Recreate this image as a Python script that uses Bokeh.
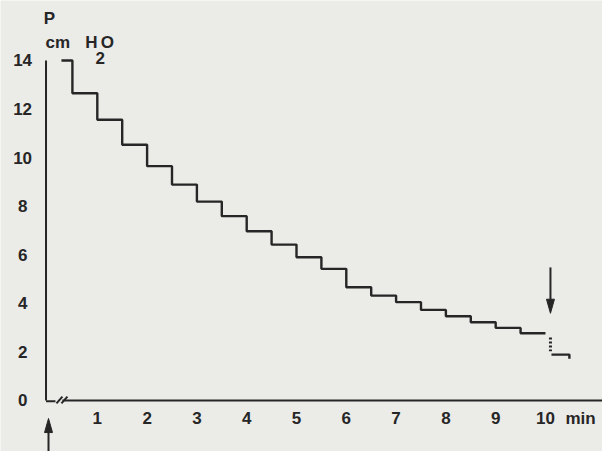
from bokeh.plotting import figure
from bokeh.models import Range1d
from bokeh.core.properties import value
from bokeh.embed import file_html
from bokeh.resources import INLINE

# ---- data ----
step_edges_min = [0.28, 0.5, 1.0, 1.5, 2.0, 2.5, 3.0, 3.5, 4.0, 4.5, 5.0,
                  5.5, 6.0, 6.5, 7.0, 7.5, 8.0, 8.5, 9.0, 9.5, 10.0]
pressure_cm = [14.0, 12.65, 11.56, 10.53, 9.65, 8.89, 8.19, 7.59, 6.97, 6.42,
               5.90, 5.42, 4.66, 4.32, 4.05, 3.73, 3.47, 3.22, 2.99, 2.77]
dotted_min = [10.1, 10.1]
dotted_p = [2.59, 2.03]
after_min = [10.12, 10.48, 10.48]
after_p = [1.89, 1.89, 1.72]
y_ticks = [0, 2, 4, 6, 8, 10, 12, 14]
x_ticks = [1, 2, 3, 4, 5, 6, 7, 8, 9, 10]
x_tick_labels = ["1", "2", "3", "4", "5", "6", "7", "8", "9", "10"]

INK = "#262626"
BG = "#ebebe8"
FONT = value("Liberation Sans")
FS = "17px"

p = figure(width=602, height=451, output_backend="svg", toolbar_location=None,
           x_range=Range1d(-0.944, 11.145), y_range=Range1d(-2.10, 16.47),
           min_border=0, background_fill_color=BG, border_fill_color=BG,
           outline_line_color=None)
p.axis.visible = False
p.grid.visible = False

# step curve
p.step(step_edges_min, pressure_cm + [pressure_cm[-1]], mode="after",
       line_color=INK, line_width=2.4)
p.line(dotted_min, dotted_p, line_color=INK, line_width=3, line_dash="2 2")
p.line(after_min, after_p, line_color=INK, line_width=2.4)

# axes drawn by hand
p.line([-0.03, -0.03], [0, 14], line_color=INK, line_width=2)
p.line([-0.03, 0.16], [-0.03, -0.03], line_color=INK, line_width=2)
p.segment(x0=[0.18, 0.28], y0=[-0.12, -0.12], x1=[0.30, 0.40], y1=[0.16, 0.16],
          line_color=INK, line_width=2)
p.line([0.30, 11.2], [0.0, 0.0], line_color=INK, line_width=2)

# tick labels
p.text(x=[-0.5] * len(y_ticks), y=y_ticks, text=[str(v) for v in y_ticks],
       text_font=FONT, text_font_style="bold", text_font_size=FS,
       text_color=INK, text_align="center", text_baseline="middle")
p.text(x=x_ticks, y=[-0.74] * len(x_ticks), text=x_tick_labels,
       text_font=FONT, text_font_style="bold", text_font_size=FS,
       text_color=INK, text_align="center", text_baseline="middle")
p.text(x=[10.4], y=[-0.74], text=["min"], text_font=FONT,
       text_font_style="bold", text_font_size=FS, text_color=INK,
       text_align="left", text_baseline="middle")

# y-axis title
p.text(x=[0.04], y=[15.73], text=["P"], text_font=FONT, text_font_style="bold",
       text_font_size=FS, text_color=INK, text_align="center",
       text_baseline="middle")
p.text(x=[-0.04, 0.76, 1.07], y=[14.74] * 3, text=["cm", "H", "O"],
       text_font=FONT, text_font_style="bold", text_font_size=FS,
       text_color=INK, text_align="left", text_baseline="middle")
p.text(x=[1.06], y=[14.12], text=["2"], text_font=FONT, text_font_style="bold",
       text_font_size=FS, text_color=INK, text_align="center",
       text_baseline="middle")

# arrows
def arrow(x, y_tail, y_tip):
    d = 1 if y_tip > y_tail else -1
    head = 0.58
    hw = 0.08
    p.line([x, x], [y_tail, y_tip - d * head * 0.5], line_color=INK, line_width=2)
    p.patch([x - hw, x, x + hw], [y_tip - d * head, y_tip, y_tip - d * head],
            fill_color=INK, line_color=INK, line_width=1)

arrow(10.1, 5.48, 3.59)
arrow(0.02, -2.2, -0.74)

open("out.html", "w").write(file_html(p, INLINE))
